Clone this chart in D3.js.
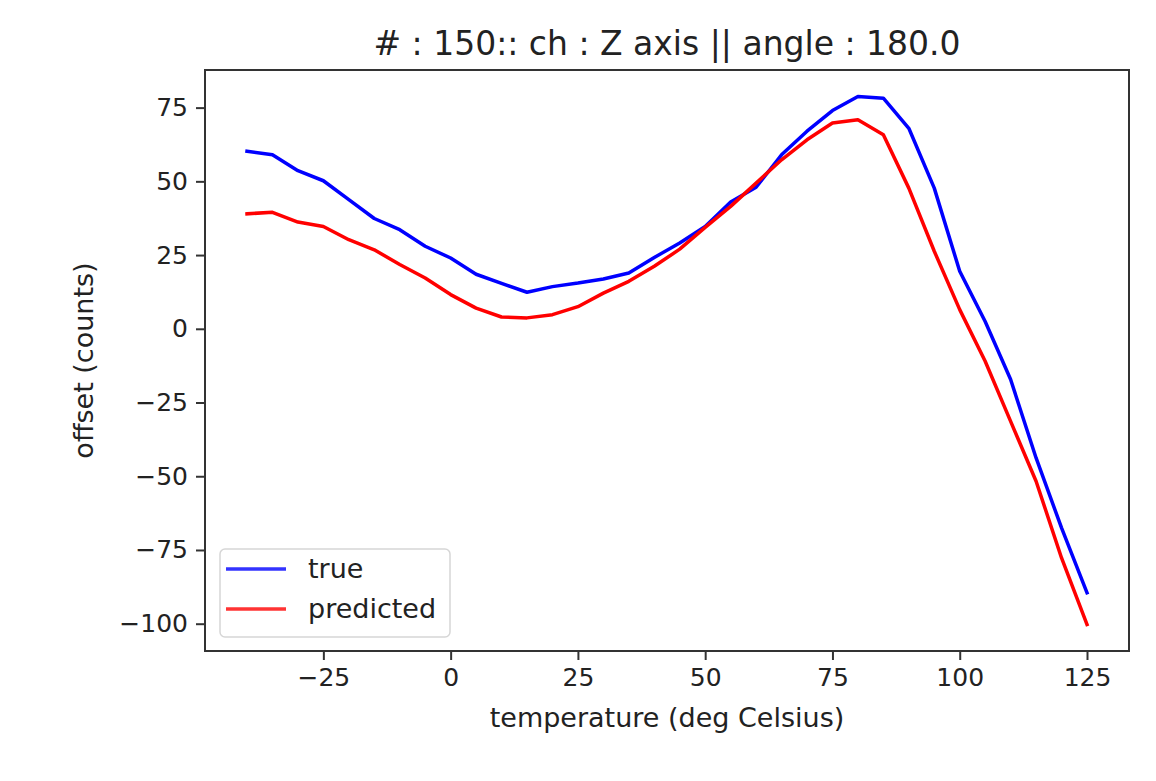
<!DOCTYPE html>
<html>
<head>
<meta charset="utf-8">
<script src="https://cdn.jsdelivr.net/npm/d3@7"></script>
<style>
  body { margin: 0; background: #fff; }
  text { font-family: "DejaVu Sans", sans-serif; fill: #222; }
</style>
</head>
<body>
<div id="chart"></div>
<script>
// temperature steps (deg C)
var temps = [-40, -35, -30, -25, -20, -15, -10, -5, 0, 5, 10, 15, 20, 25, 30, 35, 40,
             45, 50, 55, 60, 65, 70, 75, 80, 85, 90, 95, 100, 105, 110, 115, 120, 125];

var trueOffset = [60.2, 59.0, 53.6, 50.2, 43.8, 37.4, 33.6, 28.0, 24.0, 18.5, 15.4, 12.4,
                  14.3, 15.5, 16.9, 18.9, 24.2, 29.1, 34.7, 43.0, 48.0, 59.0, 67.0, 74.0,
                  78.8, 78.2, 68.0, 47.7, 19.5, 2.5, -17.2, -43.8, -67.5, -89.5];

var predOffset = [39.0, 39.5, 36.2, 34.7, 30.2, 26.8, 21.8, 17.2, 11.6, 7.0, 4.0, 3.7,
                  4.8, 7.5, 12.1, 16.1, 21.2, 27.0, 34.4, 41.5, 49.4, 57.3, 64.1, 69.8,
                  70.9, 65.8, 47.7, 26.3, 6.5, -11.0, -31.4, -51.7, -77.7, -100.3];

var xTicks = [-25, 0, 25, 50, 75, 100, 125];
var yTicks = [75, 50, 25, 0, -25, -50, -75, -100];

var seriesNames = ["true", "predicted"];
var seriesColors = ["#0000ff", "#ff0000"];

var svgWidth = 1156;
var svgHeight = 781;
var margin = {top: 70, right: 27, bottom: 130, left: 205};
var width = svgWidth - margin.left - margin.right;
var height = svgHeight - margin.top - margin.bottom;

var svg = d3.select("#chart")
    .append("svg")
    .attr("width", svgWidth)
    .attr("height", svgHeight);

var chart = svg.append("g")
    .attr("transform", `translate(${margin.left}, ${margin.top})`);

// matplotlib style 5% padding
var xPad = (d3.max(temps) - d3.min(temps)) * 0.05;
var allY = trueOffset.concat(predOffset);
var yPad = (d3.max(allY) - d3.min(allY)) * 0.05;

var x = d3.scaleLinear()
    .domain([d3.min(temps) - xPad, d3.max(temps) + xPad])
    .range([0, width]);

var y = d3.scaleLinear()
    .domain([d3.min(allY) - yPad, d3.max(allY) + yPad])
    .range([height, 0]);

var fmt = d => d < 0 ? "\u2212" + Math.abs(d) : "" + d;

var xAxis = chart.append("g")
    .attr("transform", `translate(0, ${height})`)
    .call(d3.axisBottom(x).tickValues(xTicks).tickSize(9).tickPadding(8).tickFormat(fmt));

var yAxis = chart.append("g")
    .call(d3.axisLeft(y).tickValues(yTicks).tickSize(9).tickPadding(8).tickFormat(fmt));

[xAxis, yAxis].forEach(function(ax) {
    ax.select(".domain").remove();
    ax.selectAll(".tick line").attr("stroke", "#333").attr("stroke-width", 2);
    ax.selectAll(".tick text")
        .style("font-family", "DejaVu Sans, sans-serif")
        .style("font-size", "25px")
        .attr("fill", "#222");
});

var line = d3.line()
    .x((d, i) => x(temps[i]))
    .y(d => y(d));

[trueOffset, predOffset].forEach(function(series, k) {
    chart.append("path")
        .datum(series)
        .attr("fill", "none")
        .attr("stroke", seriesColors[k])
        .attr("stroke-width", 3.5)
        .attr("stroke-linejoin", "round")
        .attr("stroke-linecap", "square")
        .attr("d", line);
});

// frame
chart.append("rect")
    .attr("width", width)
    .attr("height", height)
    .attr("fill", "none")
    .attr("stroke", "#333")
    .attr("stroke-width", 2);

// legend
var legend = chart.append("g")
    .attr("transform", `translate(15, ${height - 102})`);

legend.append("rect")
    .attr("width", 230)
    .attr("height", 88)
    .attr("rx", 5)
    .attr("fill", "#fff")
    .attr("fill-opacity", 0.8)
    .attr("stroke", "#d6d6d6")
    .attr("stroke-width", 1.5);

seriesNames.forEach(function(name, k) {
    var ly = 20 + k * 40;
    legend.append("line")
        .attr("x1", 6).attr("x2", 66)
        .attr("y1", ly).attr("y2", ly)
        .attr("stroke", seriesColors[k])
        .attr("stroke-opacity", 0.8)
        .attr("stroke-width", 3.5);
    legend.append("text")
        .attr("x", 88)
        .attr("y", ly)
        .attr("dy", "0.35em")
        .style("font-size", "27px")
        .text(name);
});

// title and axis labels
svg.append("text")
    .attr("x", margin.left + width / 2)
    .attr("y", 55)
    .attr("text-anchor", "middle")
    .style("font-size", "33px")
    .text("# : 150:: ch : Z axis || angle : 180.0");

svg.append("text")
    .attr("x", margin.left + width / 2)
    .attr("y", 727)
    .attr("text-anchor", "middle")
    .style("font-size", "27px")
    .text("temperature (deg Celsius)");

svg.append("text")
    .attr("transform", `translate(93, ${margin.top + height / 2}) rotate(-90)`)
    .attr("text-anchor", "middle")
    .style("font-size", "27px")
    .text("offset (counts)");
</script>
</body>
</html>
